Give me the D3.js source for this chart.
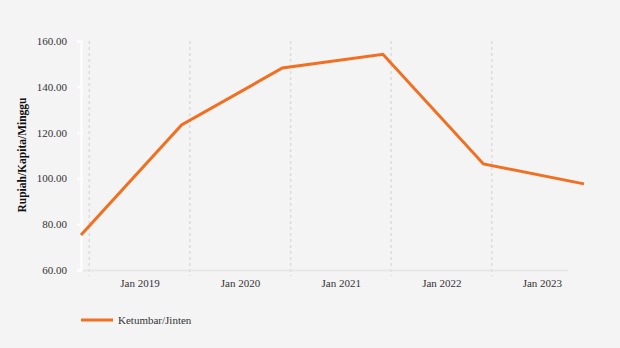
<!DOCTYPE html>
<html><head><meta charset="utf-8">
<script src="https://cdn.jsdelivr.net/npm/d3@7"></script>
<style>
html,body{margin:0;padding:0;background:#f4f4f4;}
svg{display:block;}
text{font-family:"Liberation Serif","Times New Roman",serif;}
</style></head>
<body>
<svg id="chart" width="620" height="348"></svg>
<script>
const seriesName = "Ketumbar/Jinten";
const dates = ["2018-06-01","2019-06-01","2020-06-01","2021-06-01","2022-06-01","2023-06-01"];
const values = [75.3, 123.3, 148.2, 154.2, 106.3, 97.6];
const yTicks = [60, 80, 100, 120, 140, 160];
const xLabelDates = ["2019-01-01","2020-01-01","2021-01-01","2022-01-01","2023-01-01"];
const gridDates = ["2018-07-01","2019-07-01","2020-07-01","2021-07-01","2022-07-01"];
const yTitle = "Rupiah/Kapita/Minggu";

const parse = d3.utcParse("%Y-%m-%d");
const data = dates.map((d,i)=>({date:parse(d), value:values[i]}));

const svg = d3.select("#chart");
const x = d3.scaleUtc().domain([parse(dates[0]), parse(dates[dates.length-1])]).range([81, 584]);
const y = d3.scaleLinear().domain([60,160]).range([270, 41]);

// vertical dashed grid lines
svg.append("g").selectAll("line").data(gridDates.map(parse)).join("line")
  .attr("x1", d=>x(d)).attr("x2", d=>x(d))
  .attr("y1", 41).attr("y2", 276)
  .attr("stroke", "#dcdcdc").attr("stroke-width", 1.5).attr("stroke-dasharray", "3,3");

// x axis line
svg.append("line").attr("x1", 81).attr("x2", 568).attr("y1", 270.5).attr("y2", 270.5)
  .attr("stroke", "#e4e4e4").attr("stroke-width", 1.5);

// x labels
svg.append("g").selectAll("text").data(xLabelDates.map(parse)).join("text")
  .attr("x", d=>x(d)).attr("y", 287)
  .attr("text-anchor", "middle").attr("font-size", 11).attr("fill", "#333")
  .text(d=>d3.utcFormat("Jan %Y")(d));

// y axis
const yAxis = d3.axisLeft(y).tickValues(yTicks).tickFormat(d3.format(".2f")).tickSize(4).tickPadding(10);
const gy = svg.append("g").attr("transform", "translate(81,0)").call(yAxis);
gy.select(".domain").attr("stroke", "#ffffff").attr("stroke-width", 2);
gy.selectAll(".tick line").attr("stroke", "#ffffff").attr("stroke-width", 2);
gy.selectAll(".tick text").attr("font-size", 11).attr("fill", "#333")
  .attr("font-family", "'Liberation Serif','Times New Roman',serif");

// y title
svg.append("text").attr("transform", "translate(26,155) rotate(-90)")
  .attr("text-anchor", "middle").attr("font-size", 11.5).attr("font-weight", "bold").attr("fill", "#111")
  .text(yTitle);

// line
const line = d3.line().x(d=>x(d.date)).y(d=>y(d.value));
svg.append("path").datum(data).attr("d", line)
  .attr("fill", "none").attr("stroke", "#f26f21").attr("stroke-width", 3)
  .attr("stroke-linejoin", "miter");

// legend
svg.append("line").attr("x1", 81).attr("x2", 113).attr("y1", 320).attr("y2", 320)
  .attr("stroke", "#f26f21").attr("stroke-width", 3);
svg.append("text").attr("x", 118).attr("y", 324).attr("font-size", 11).attr("fill", "#333")
  .text(seriesName);
</script>
</body></html>
